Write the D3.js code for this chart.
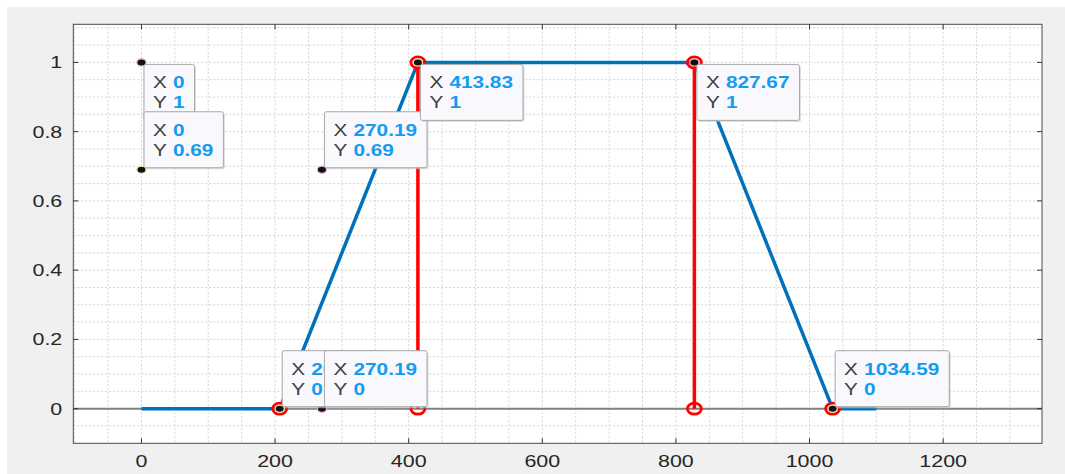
<!DOCTYPE html>
<html>
<head>
<meta charset="utf-8">
<script src="https://cdn.jsdelivr.net/npm/d3@7"></script>
<style>
  body { margin: 0; background: #fff; }
  svg { display: block; font-family: "Liberation Sans", Arial, sans-serif; }
</style>
</head>
<body>
<div id="chart"></div>
<script>
// data
const blueX = [0, 206.92, 413.83, 827.67, 1034.59, 1100];
const blueY = [0, 0, 1, 1, 0, 0];
const redLineX = [413.83, 827.67];
const redCircleX = [206.92, 413.83, 413.83, 827.67, 827.67, 1034.59];
const redCircleY = [0, 0, 1, 1, 0, 0];
const tipX = [0, 0, 270.19, 413.83, 827.67, 206.92, 270.19, 1034.59];
const tipY = [1, 0.69, 0.69, 1, 1, 0, 0, 0];
const tipTextX = ["0", "0", "270.19", "413.83", "827.67", "206.92", "270.19", "1034.59"];
const tipTextY = ["1", "0.69", "0.69", "1", "1", "0", "0", "0"];
const tipSide = ["below", "above", "above", "below", "below", "above", "above", "above"];
const xTicks = [0, 200, 400, 600, 800, 1000, 1200];
const yTicks = [0, 0.2, 0.4, 0.6, 0.8, 1];
const yTickLabels = ["0", "0.2", "0.4", "0.6", "0.8", "1"];

// dims
const width = 1065;
const height = 474;
const plotL = 73.3, plotR = 1042, plotT = 24.3, plotB = 443.3;
const stretch = 1.3; // screenshot is horizontally stretched

const svg = d3.select("#chart")
    .append("svg")
    .attr("width", width)
    .attr("height", height);

// background panel
svg.append("rect")
    .attr("x", 7).attr("y", 7)
    .attr("width", width - 7).attr("height", height - 7)
    .attr("fill", "#f0f0f0");

const xScale = d3.scaleLinear().domain([-102, 1348]).range([plotL, plotR]);
const yScale = d3.scaleLinear().domain([-0.1, 1.11]).range([plotB, plotT]);

svg.append("rect")
    .attr("x", plotL).attr("y", plotT)
    .attr("width", plotR - plotL).attr("height", plotB - plotT)
    .attr("fill", "#fff");

// grid (major + minor, dotted)
const gridX = d3.range(-100, 1350, 50);
const gridY = d3.range(-0.1, 1.11, 0.05).map(v => Math.round(v * 100) / 100);

svg.append("g").selectAll("line")
    .data(gridX.filter(d => xScale(d) > plotL + 1))
    .enter().append("line")
    .attr("x1", d => xScale(d)).attr("x2", d => xScale(d))
    .attr("y1", plotT).attr("y2", plotB)
    .attr("stroke", "#d4d4d4").attr("stroke-dasharray", "2,2");

svg.append("g").selectAll("line")
    .data(gridY.filter(d => yScale(d) < plotB - 1 && yScale(d) > plotT + 1))
    .enter().append("line")
    .attr("x1", plotL).attr("x2", plotR)
    .attr("y1", d => yScale(d)).attr("y2", d => yScale(d))
    .attr("stroke", "#d4d4d4").attr("stroke-dasharray", "2,2");

// zero line
svg.append("line")
    .attr("x1", plotL).attr("x2", plotR)
    .attr("y1", yScale(0)).attr("y2", yScale(0))
    .attr("stroke", "#808080").attr("stroke-width", 2);

// axes box
svg.append("rect")
    .attr("x", plotL).attr("y", plotT)
    .attr("width", plotR - plotL).attr("height", plotB - plotT)
    .attr("fill", "none").attr("stroke", "#4a4a4a").attr("stroke-width", 1);

// tick marks (inside, all four sides)
const tickLen = 5;
const ticks = svg.append("g").attr("stroke", "#333");
xTicks.forEach(t => {
    ticks.append("line").attr("x1", xScale(t)).attr("x2", xScale(t))
        .attr("y1", plotB).attr("y2", plotB - tickLen);
    ticks.append("line").attr("x1", xScale(t)).attr("x2", xScale(t))
        .attr("y1", plotT).attr("y2", plotT + tickLen);
});
yTicks.forEach(t => {
    ticks.append("line").attr("y1", yScale(t)).attr("y2", yScale(t))
        .attr("x1", plotL).attr("x2", plotL + tickLen);
    ticks.append("line").attr("y1", yScale(t)).attr("y2", yScale(t))
        .attr("x1", plotR).attr("x2", plotR - tickLen);
});

// tick labels
svg.append("g").selectAll("text")
    .data(xTicks)
    .enter().append("text")
    .attr("transform", d => `translate(${xScale(d)},${plotB + 24}) scale(${stretch},1)`)
    .attr("text-anchor", "middle")
    .attr("font-size", 16.5)
    .attr("fill", "#262626")
    .text(d => d);

svg.append("g").selectAll("text")
    .data(yTicks)
    .enter().append("text")
    .attr("transform", d => `translate(${plotL - 11},${yScale(d) + 6}) scale(${stretch},1)`)
    .attr("text-anchor", "end")
    .attr("font-size", 16.5)
    .attr("fill", "#262626")
    .text((d, i) => yTickLabels[i]);

// blue line
const line = d3.line().x(d => xScale(d[0])).y(d => yScale(d[1]));
svg.append("path")
    .datum(blueX.map((x, i) => [x, blueY[i]]))
    .attr("d", line)
    .attr("fill", "none")
    .attr("stroke", "#0072bd")
    .attr("stroke-width", 3.5)
    .attr("stroke-linejoin", "round");

// red verticals
svg.append("g").selectAll("line")
    .data(redLineX)
    .enter().append("line")
    .attr("x1", d => xScale(d)).attr("x2", d => xScale(d))
    .attr("y1", yScale(0)).attr("y2", yScale(1))
    .attr("stroke", "#ff0000").attr("stroke-width", 3.5);

// red circles
svg.append("g").selectAll("ellipse")
    .data(redCircleX)
    .enter().append("ellipse")
    .attr("cx", d => xScale(d))
    .attr("cy", (d, i) => yScale(redCircleY[i]))
    .attr("rx", 7).attr("ry", 5.5)
    .attr("fill", "none")
    .attr("stroke", "#ff0000").attr("stroke-width", 2.8);

// datatip markers
svg.append("g").selectAll("ellipse")
    .data(tipX)
    .enter().append("ellipse")
    .attr("cx", d => xScale(d))
    .attr("cy", (d, i) => yScale(tipY[i]))
    .attr("rx", 4.6).attr("ry", 3.6)
    .attr("fill", "#111")
    .attr("stroke", (d, i) => i % 2 ? "#f6e9a8" : "#f2a8e0")
    .attr("stroke-width", 1.2);

// datatips
const boxH = 56;
tipX.forEach((tx, i) => {
    const mx = xScale(tx), my = yScale(tipY[i]);
    const g = svg.append("g");
    const bx = mx + 2.5;
    const by = tipSide[i] === "below" ? my + 2 : my - 2 - boxH;

    const shadow = g.append("rect").attr("fill", "#c8c8c8").attr("opacity", 0.6)
        .attr("rx", 2);
    const box = g.append("rect").attr("fill", "#f8f8fd")
        .attr("stroke", "#a8a8a8").attr("stroke-width", 1).attr("rx", 2);

    const lines = [["X", tipTextX[i]], ["Y", tipTextY[i]]];
    let maxW = 0;
    lines.forEach((l, j) => {
        const baseY = by + 24 + j * 20;
        g.append("text")
            .attr("transform", `translate(${bx + 9},${baseY}) scale(${stretch},1)`)
            .attr("font-size", 16)
            .attr("fill", "#404040")
            .text(l[0]);
        const v = g.append("text")
            .attr("transform", `translate(${bx + 29},${baseY}) scale(${stretch},1)`)
            .attr("font-size", 16)
            .attr("font-weight", "bold")
            .attr("fill", "#149bf2")
            .text(l[1]);
        maxW = Math.max(maxW, v.node().getComputedTextLength() * stretch);
    });
    const boxW = 29 + maxW + 10;
    box.attr("x", bx).attr("y", by).attr("width", boxW).attr("height", boxH);
    shadow.attr("x", bx + 1.5).attr("y", by + 1.5).attr("width", boxW).attr("height", boxH);
});
</script>
</body>
</html>
